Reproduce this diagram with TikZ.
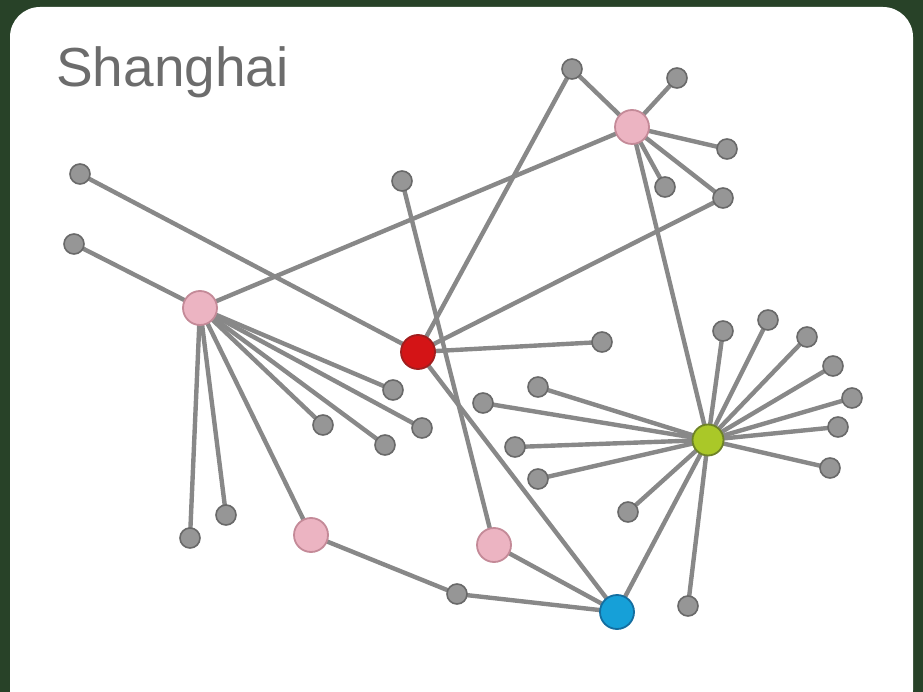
\documentclass[tikz,border=0pt]{standalone}
\usepackage{fontspec}
\setsansfont{Liberation Sans}
\definecolor{framegreen}{RGB}{40,66,40}
\definecolor{edgegray}{RGB}{136,136,136}
\definecolor{leaffill}{RGB}{150,150,150}
\definecolor{leafline}{RGB}{105,105,105}
\definecolor{pinkfill}{RGB}{236,180,194}
\definecolor{pinkline}{RGB}{196,138,152}
\definecolor{redfill}{RGB}{212,20,22}
\definecolor{redline}{RGB}{160,30,30}
\definecolor{greenfill}{RGB}{170,200,40}
\definecolor{greenline}{RGB}{110,130,40}
\definecolor{bluefill}{RGB}{22,160,216}
\definecolor{blueline}{RGB}{20,110,160}
\definecolor{titlegray}{RGB}{108,108,108}
\begin{document}
\begin{tikzpicture}[x=1pt,y=-1pt,
  edge/.style={draw=edgegray,line width=4.4pt},
  leaf/.style={circle,minimum size=20pt,inner sep=0pt,fill=leaffill,draw=leafline,line width=1.6pt},
  hub/.style={circle,minimum size=34pt,inner sep=0pt,line width=1.8pt},
  pinkhub/.style={hub,fill=pinkfill,draw=pinkline},
  redhub/.style={hub,fill=redfill,draw=redline},
  greenhub/.style={hub,minimum size=31pt,fill=greenfill,draw=greenline},
  bluehub/.style={hub,fill=bluefill,draw=blueline}
]
% frame and panel
\useasboundingbox (0,0) rectangle (923,692);
\fill[framegreen] (0,0) rectangle (923,692);
\fill[white,rounded corners=30pt] (10,7) rectangle (913,720);

% title
\node[anchor=base west,inner sep=0pt,font=\sffamily\fontsize{55}{62}\selectfont,text=titlegray] (title) at (56,87) {Shanghai};

% hubs
\coordinate (A) at (200,308);
\coordinate (R) at (418,352);
\coordinate (B) at (632,127);
\coordinate (G) at (708,440);
\coordinate (U) at (617,612);
\coordinate (C) at (311,535);
\coordinate (D) at (494,545);

% leaves
\coordinate (l1) at (80,174);
\coordinate (l2) at (74,244);
\coordinate (l3) at (572,69);
\coordinate (l4) at (677,78);
\coordinate (l5) at (727,149);
\coordinate (l6) at (665,187);
\coordinate (l7) at (723,198);
\coordinate (l8) at (402,181);
\coordinate (l9) at (602,342);
\coordinate (a1) at (393,390);
\coordinate (a2) at (422,428);
\coordinate (a3) at (323,425);
\coordinate (a4) at (385,445);
\coordinate (a5) at (226,515);
\coordinate (a6) at (190,538);
\coordinate (g1) at (723,331);
\coordinate (g2) at (768,320);
\coordinate (g3) at (807,337);
\coordinate (g4) at (833,366);
\coordinate (g5) at (852,398);
\coordinate (g6) at (838,427);
\coordinate (g7) at (830,468);
\coordinate (g8) at (538,387);
\coordinate (g9) at (483,403);
\coordinate (g10) at (515,447);
\coordinate (g11) at (538,479);
\coordinate (g12) at (628,512);
\coordinate (g13) at (688,606);
\coordinate (m1) at (457,594);

% connectors
\foreach \a/\b in {l1/R,l2/A,A/B,l3/B,l4/B,l5/B,l6/B,l7/B,l3/R,l7/R,l9/R,l8/D,R/U,B/G,
  A/a1,A/a2,A/a3,A/a4,A/a5,A/a6,A/C,C/m1,m1/U,D/U,G/U,
  G/g1,G/g2,G/g3,G/g4,G/g5,G/g6,G/g7,G/g8,G/g9,G/g10,G/g11,G/g12,G/g13}
  \draw[edge] (\a) -- (\b);

% leaf nodes
\foreach \n in {l1,l2,l3,l4,l5,l6,l7,l8,l9,a1,a2,a3,a4,a5,a6,g1,g2,g3,g4,g5,g6,g7,g8,g9,g10,g11,g12,g13,m1}
  \node[leaf] (n-\n) at (\n) {};

% hub nodes
\node[pinkhub] (nA) at (A) {};
\node[pinkhub] (nB) at (B) {};
\node[pinkhub] (nC) at (C) {};
\node[pinkhub] (nD) at (D) {};
\node[redhub] (nR) at (R) {};
\node[greenhub] (nG) at (G) {};
\node[bluehub] (nU) at (U) {};
\end{tikzpicture}
\end{document}
